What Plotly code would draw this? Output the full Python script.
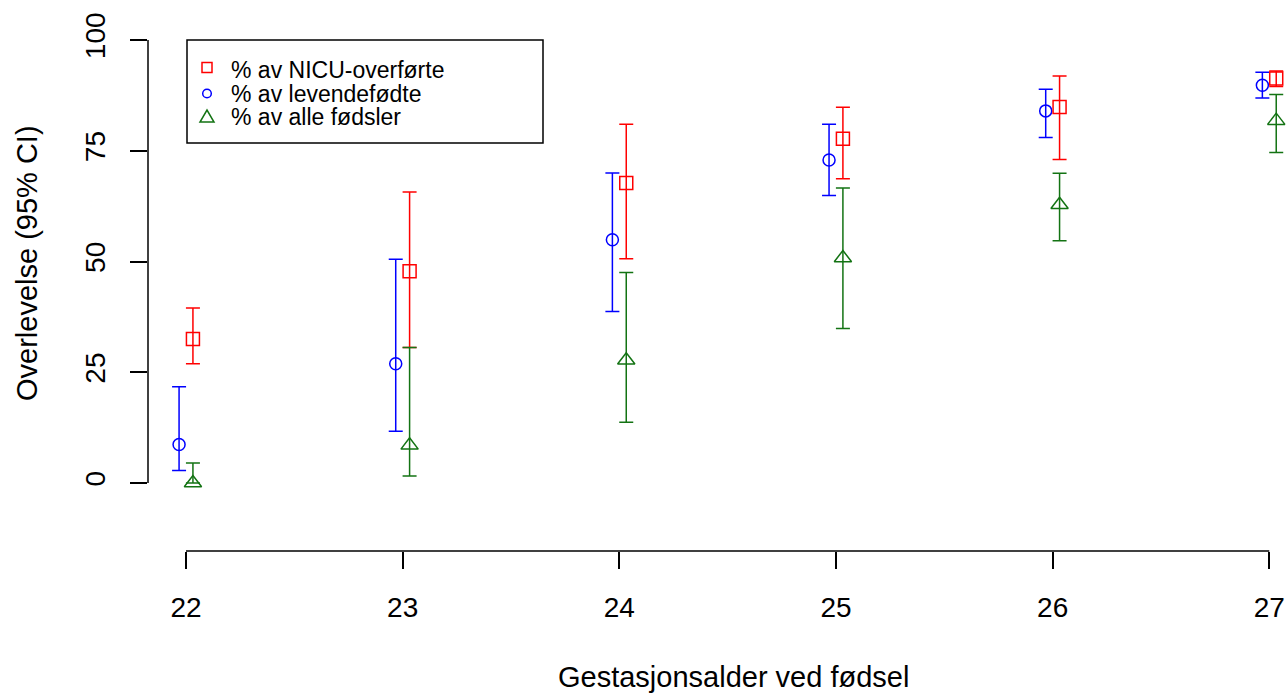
import plotly.graph_objects as go

# Gestational age (weeks)
weeks = [22, 23, 24, 25, 26, 27]

# Survival in % with 95% CI, three denominators
nicu_pct = [32.5, 47.8, 67.7, 77.7, 84.9, 91.3]
nicu_lo = [26.9, 30.6, 50.6, 68.7, 73.0, 89.5]
nicu_hi = [39.5, 65.7, 81.0, 84.8, 91.9, 93.0]

live_pct = [8.7, 26.9, 54.9, 72.9, 84.0, 89.8]
live_lo = [2.8, 11.7, 38.7, 64.9, 78.0, 86.9]
live_hi = [21.7, 50.5, 70.0, 81.0, 88.9, 92.7]

all_pct = [0.0, 8.5, 27.7, 50.8, 62.8, 81.8]
all_lo = [0.0, 1.6, 13.7, 34.9, 54.7, 74.6]
all_hi = [4.5, 30.6, 47.5, 66.6, 69.9, 87.7]

legend_labels = ["% av NICU-overførte", "% av levendefødte", "% av alle fødsler"]
y_ticks = [0, 25, 50, 75, 100]

RED = "#FF0000"
BLUE = "#0000FF"
GREEN = "#137313"
FONT = "Liberation Sans, Arial, sans-serif"

W, H = 1288, 693
PL, PR, PT, PB = 148, 1288, 20, 551  # plot area in pixels


def px(x):
    return (x - PL) / (PR - PL)


def py(y):
    return (PB - y) / (PB - PT)


def series(x, shift, val, lo, hi, color, symbol, size):
    return go.Scatter(
        x=[v + shift for v in x],
        y=val,
        mode="markers",
        marker=dict(symbol=symbol, size=size, color=color,
                    line=dict(color=color, width=1.5)),
        error_y=dict(type="data", symmetric=False,
                     array=[h - v for h, v in zip(hi, val)],
                     arrayminus=[v - l for v, l in zip(val, lo)],
                     color=color, thickness=1.5, width=7),
        showlegend=False,
        hoverinfo="x+y",
    )


fig = go.Figure()
fig.add_trace(series(weeks, -0.032, live_pct, live_lo, live_hi, BLUE, "circle-open", 12))
fig.add_trace(series(weeks, 0.032, nicu_pct, nicu_lo, nicu_hi, RED, "square-open", 13))
fig.add_trace(series(weeks, 0.032, all_pct, all_lo, all_hi, GREEN, "triangle-up-open", 15))

shapes = [
    # R-style axis lines spanning only first to last tick
    dict(type="line", xref="x", yref="paper", x0=weeks[0], x1=weeks[-1], y0=0, y1=0,
         line=dict(color="black", width=1.5)),
    dict(type="line", xref="paper", yref="y", x0=0, x1=0, y0=y_ticks[0], y1=y_ticks[-1],
         line=dict(color="black", width=1.5)),
    # legend box
    dict(type="rect", xref="paper", yref="paper", x0=px(187), x1=px(543), y0=py(143), y1=py(40),
         line=dict(color="black", width=1.5), fillcolor="white", layer="above"),
]

# legend symbols
lx = 207
rows = [67.5, 93.5, 116.5]
s = 5
shapes.append(dict(type="rect", xref="paper", yref="paper",
                   x0=px(lx - s), x1=px(lx + s), y0=py(rows[0] + s), y1=py(rows[0] - s),
                   line=dict(color=RED, width=1.5), layer="above"))
shapes.append(dict(type="circle", xref="paper", yref="paper",
                   x0=px(lx - 4.3), x1=px(lx + 4.3), y0=py(rows[1] + 4.3), y1=py(rows[1] - 4.3),
                   line=dict(color=BLUE, width=1.5), layer="above"))
tri = "M {} {} L {} {} L {} {} Z".format(px(lx - 7), py(rows[2] + 5.5), px(lx + 7), py(rows[2] + 5.5),
                                         px(lx), py(rows[2] - 6.5))
shapes.append(dict(type="path", xref="paper", yref="paper", path=tri,
                   line=dict(color=GREEN, width=1.5), layer="above"))

annotations = []
for label, ry in zip(legend_labels, [70, 93.5, 117]):
    annotations.append(dict(xref="paper", yref="paper", x=px(229), y=py(ry), text=label,
                            showarrow=False, xanchor="left", yanchor="middle",
                            font=dict(family=FONT, size=23, color="black")))

annotations.append(dict(xref="paper", yref="paper", x=px(733), y=py(677),
                        text="Gestasjonsalder ved fødsel", showarrow=False,
                        xanchor="center", yanchor="middle",
                        font=dict(family=FONT, size=29, color="black")))
annotations.append(dict(xref="paper", yref="paper", x=px(27), y=py(263),
                        text="Overlevelse (95% CI)", showarrow=False, textangle=-90,
                        xanchor="center", yanchor="middle",
                        font=dict(family=FONT, size=29, color="black")))

x_lo = 22 - (186 - PL) / 216.66
x_hi = 27 + (PR - 1269.3) / 216.66
y_lo = (483 - PB) / 4.43
y_hi = (483 - PT) / 4.43

fig.update_layout(
    width=W, height=H,
    margin=dict(l=PL, r=W - PR, t=PT, b=H - PB, pad=0),
    paper_bgcolor="white", plot_bgcolor="white",
    font=dict(family=FONT, color="black"),
    shapes=shapes,
    annotations=annotations,
    xaxis=dict(range=[x_lo, x_hi], tickvals=weeks, ticktext=[str(w) for w in weeks],
               ticks="outside", ticklen=17, tickwidth=1.5, tickcolor="black",
               showline=False, showgrid=False, zeroline=False,
               tickfont=dict(family=FONT, size=28, color="black"), ticklabelstandoff=14),
    yaxis=dict(range=[y_lo, y_hi], tickvals=y_ticks,
               ticks="outside", ticklen=17, tickwidth=1.5, tickcolor="black",
               showline=False, showgrid=False, zeroline=False, tickangle=-90,
               tickfont=dict(family=FONT, size=28, color="black"), ticklabelstandoff=14),
    showlegend=False,
)

fig.write_html("out.html")
